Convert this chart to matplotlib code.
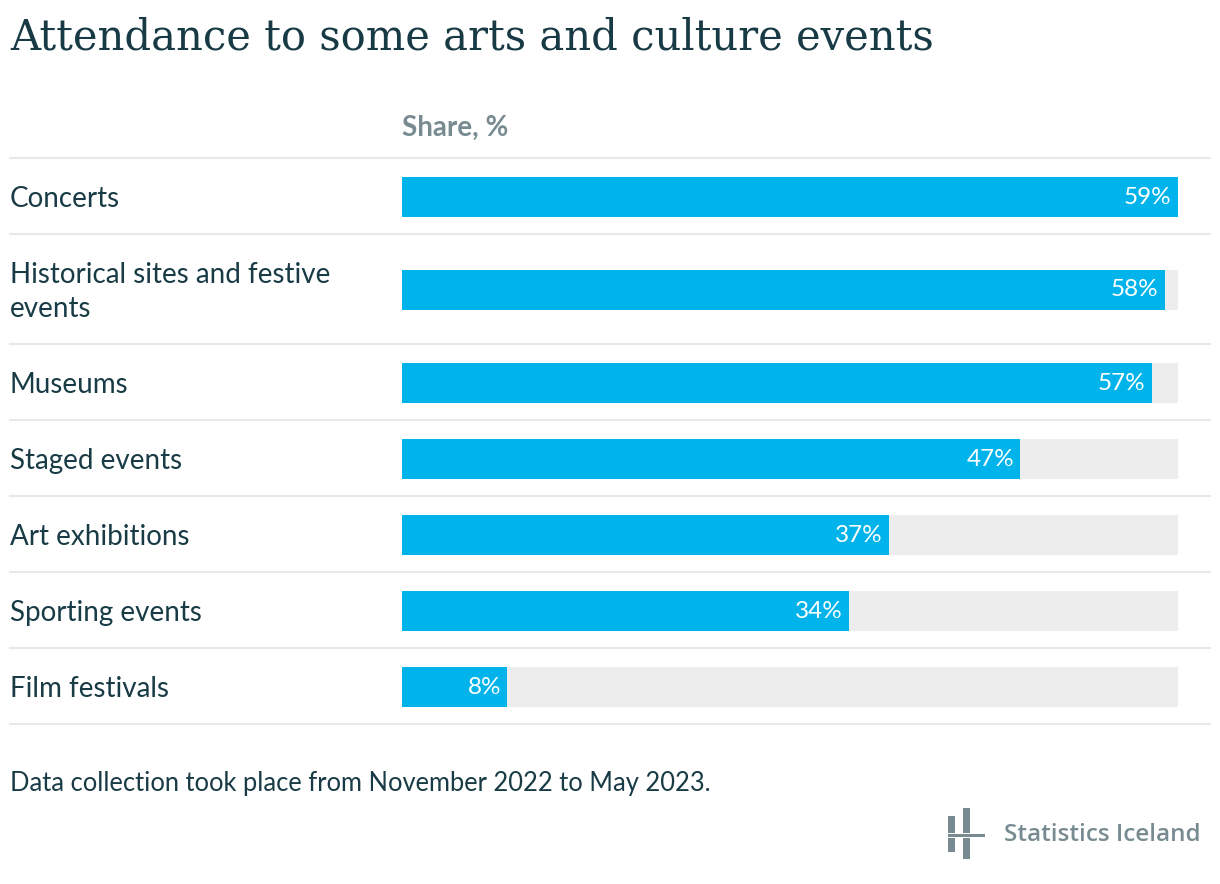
import matplotlib

matplotlib.use("Agg")
import matplotlib.pyplot as plt
from matplotlib.patches import Rectangle
from matplotlib.lines import Line2D

categories = [
    "Concerts",
    "Historical sites and festive\nevents",
    "Museums",
    "Staged events",
    "Art exhibitions",
    "Sporting events",
    "Film festivals",
]
shares = [59, 58, 57, 47, 37, 34, 8]

TITLE = "Attendance to some arts and culture events"
AXIS_LABEL = "Share, %"
NOTE = "Data collection took place from November 2022 to May 2023."
SOURCE = "Statistics Iceland"

BAR_COLOR = "#00b4eb"
TRACK_COLOR = "#ededed"
RULE_COLOR = "#e8e8e8"
TEXT_COLOR = "#183b45"
GREY = "#778b91"

W, H = 1220, 884
fig = plt.figure(figsize=(W / 100, H / 100), dpi=100)
plt.rcParams["font.family"] = ["Lato", "DejaVu Sans"]


def fx(px):
    return px / W


def fy(py):
    return 1 - py / H


# bar area in pixel rows; the x range is the data range
ax = fig.add_axes([fx(402), 0, fx(1178) - fx(402), 1])
ax.set_xlim(0, max(shares))
ax.set_ylim(H, 0)
ax.axis("off")

# row layout: one-line rows 76 px, each extra label line adds 34 px
top = 158
rules = [top]
centers = []
for cat in categories:
    h = 76 + 34 * cat.count("\n")
    centers.append(top + h / 2 + 1)
    top += h
    rules.append(top)

full = max(shares)
ax.barh(centers, [full] * len(shares), height=40, color=TRACK_COLOR, zorder=1)
ax.barh(centers, shares, height=40, color=BAR_COLOR, zorder=2)

for yc, v, cat in zip(centers, shares, categories):
    ax.annotate(f"{v}%", (v, yc), xytext=(-4.5, 0), textcoords="offset points",
                ha="right", va="center", color="white", fontsize=17.5, zorder=3)
    fig.text(fx(10), fy(yc + 2), cat, ha="left", va="center", fontsize=20,
             color=TEXT_COLOR, linespacing=1.4)

for r in rules:
    fig.add_artist(Line2D([fx(10), fx(1210)], [fy(r), fy(r)], color=RULE_COLOR, lw=1.5))

fig.text(fx(10), fy(38), TITLE, ha="left", va="center", fontsize=30,
         color="#173a44", family=["DejaVu Serif"])
fig.text(fx(402), fy(128), AXIS_LABEL, ha="left", va="center", fontsize=20,
         color=GREY, fontweight="bold")
fig.text(fx(10), fy(784), NOTE, ha="left", va="center", fontsize=18.4, color=TEXT_COLOR)

# logo mark
for x0, y0, x1, y1 in [(948, 816, 955, 833), (948, 838, 955, 852),
                       (963, 808, 970, 833), (963, 838, 970, 859),
                       (948, 834, 985, 837)]:
    fig.add_artist(Rectangle((fx(x0), fy(y1)), fx(x1) - fx(x0), fy(y0) - fy(y1),
                             transform=fig.transFigure, color=GREY, lw=0))
fig.text(fx(1004), fy(835), SOURCE, ha="left", va="center", fontsize=17.5,
         color=GREY, family=["Open Sans"], fontweight="semibold")

fig.savefig("out.png", dpi=100)
